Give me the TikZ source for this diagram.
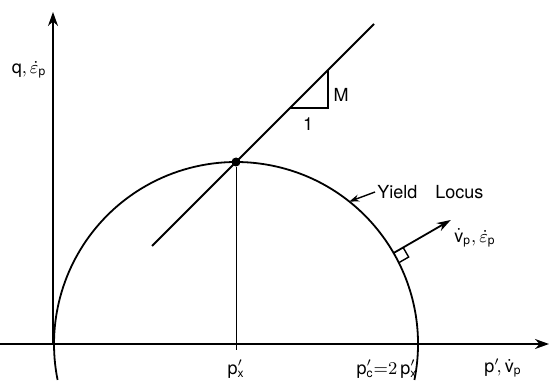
\documentclass[tikz,border=0pt]{standalone}
\usepackage{fontspec}
\setmainfont{TeX Gyre Heros}
\usepackage{tikz}
\usetikzlibrary{positioning,arrows.meta,calc}
\tikzset{
  axis/.style={line width=0.9pt, -{Stealth[length=7pt,width=5pt]}},
  locus/.style={line width=0.9pt},
  slope/.style={line width=0.9pt},
  guide/.style={line width=0.5pt},
  ptr/.style={line width=0.7pt, -{Stealth[length=5pt,width=3.5pt]}},
  normal/.style={line width=0.9pt, -{Stealth[length=7pt,width=4.5pt]}},
  dot/.style={circle, fill, inner sep=0pt, minimum size=4.5pt},
  lbl/.style={font=\small, inner sep=1pt}
}

\begin{document}
\begin{tikzpicture}[x=0.5pt,y=0.5pt]
\useasboundingbox (0,0) rectangle (560,380);
% axes
\coordinate (O) at (53,36);
\coordinate (xs) at (0,36);
\coordinate (xe) at (549,36);
\coordinate (ye) at (53,368);
\draw[axis] (xs) -- (xe);
\draw[axis] (O) -- (ye);
\node[lbl] (qlbl) at (29,310) {$\mathrm{q},\dot{\varepsilon}_{\mathrm{p}}$};
\node[lbl] (plbl) at (503,12) {$\mathrm{p}'\!,\dot{\mathrm{v}}_{\mathrm{p}}$};
% yield locus
\coordinate (C) at (236,36);
\draw[locus] (C) ++(-11.4:182) arc[start angle=-11.4, end angle=191.4, radius=182];
\node[dot] (px) at ($(C)+(90:182)$) {};
\coordinate (pxtick) at ($(px |- O)+(0,-6)$);
\draw[guide] (px) -- (pxtick);
\node[lbl] (pxlbl) at (236,11) {$\mathrm{p}'_{\mathrm{x}}$};
\node[lbl] (pclbl) at (387,11) {$\mathrm{p}'_{\mathrm{c}}{=}2\,\mathrm{p}'_{\mathrm{x}}$};
% critical state line
\coordinate (la) at ($(px)+(-84,-84)$);
\coordinate (lb) at ($(px)+(138,138)$);
\draw[slope] (la) -- (lb);
\coordinate (t1) at ($(px)+(54,54)$);
\coordinate (t2) at ($(px)+(92,54)$);
\coordinate (t3) at ($(px)+(92,92)$);
\draw[slope] (t1) -- (t2) -- (t3);
\node[lbl] (mlbl) at (341,285) {M};
\node[lbl] (onelbl) at (308,256) {1};
% labels on the locus
\node[lbl, anchor=west] (yl) at (375,188) {Yield\quad Locus};
\coordinate (ylpt) at ($(C)+(51.5:182)$);
\draw[ptr] (yl.west) -- (ylpt);
\coordinate (nf) at ($(C)+(30:182)$);
\coordinate (ne) at ($(C)+(30:248)$);
\draw[normal] (nf) -- (ne);
\draw[guide, line width=0.7pt] (nf) ++(30:11) -- ++(-60:11) -- ++(-150:11);
\node[lbl, anchor=west] (nlbl) at (452,142) {$\dot{\mathrm{v}}_{\mathrm{p}},\dot{\varepsilon}_{\mathrm{p}}$};
\end{tikzpicture}
\end{document}
